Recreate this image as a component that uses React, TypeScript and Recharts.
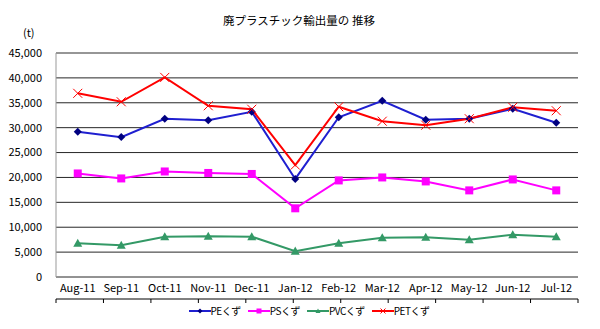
import { LineChart, Line, XAxis, YAxis, CartesianGrid, Legend, ReferenceLine } from 'recharts'

const months = ['Aug-11', 'Sep-11', 'Oct-11', 'Nov-11', 'Dec-11', 'Jan-12', 'Feb-12', 'Mar-12', 'Apr-12', 'May-12', 'Jun-12', 'Jul-12']
const peWaste = [29200, 28100, 31800, 31500, 33200, 19700, 32100, 35400, 31600, 31800, 33800, 31000]
const psWaste = [20800, 19800, 21200, 20900, 20700, 13800, 19400, 20000, 19200, 17400, 19600, 17400]
const pvcWaste = [6800, 6400, 8100, 8200, 8100, 5200, 6800, 7900, 8000, 7500, 8500, 8100]
const petWaste = [36900, 35200, 40100, 34400, 33700, 22500, 34200, 31300, 30500, 31800, 34100, 33400]
const yTicks = [0, 5000, 10000, 15000, 20000, 25000, 30000, 35000, 40000, 45000]
const edgeTicks = [0, 1, 2, 3, 4, 5, 6, 7, 8, 9, 10, 11, 12]

const data = months.map((m, i) => ({
  month: m,
  pe: peWaste[i],
  ps: psWaste[i],
  pvc: pvcWaste[i],
  pet: petWaste[i],
}))

const FONT = '"Noto Sans CJK JP", "Noto Sans", sans-serif'

// marker shapes
const Diamond = ({ cx, cy, fill = '#000080', r = 4 }: any) =>
  cx == null ? null : <path d={`M${cx},${cy - r} L${cx + r},${cy} L${cx},${cy + r} L${cx - r},${cy} Z`} fill={fill} />
const Square = ({ cx, cy, fill = '#ff00ff', r = 4 }: any) =>
  cx == null ? null : <rect x={cx - r} y={cy - r} width={r * 2} height={r * 2} fill={fill} />
const Triangle = ({ cx, cy, fill = '#339966', r = 4.5 }: any) =>
  cx == null ? null : <path d={`M${cx},${cy - r} L${cx + r},${cy + r * 0.8} L${cx - r},${cy + r * 0.8} Z`} fill={fill} />
const Cross = ({ cx, cy, stroke = '#ff0000', r = 4.5 }: any) =>
  cx == null ? null : (
    <path d={`M${cx - r},${cy - r} L${cx + r},${cy + r} M${cx + r},${cy - r} L${cx - r},${cy + r}`} stroke={stroke} strokeWidth={1} fill="none" />
  )

const series = [
  { key: 'pe', name: 'PEくず', color: '#1f1fd0', Marker: Diamond, mColor: '#000080' },
  { key: 'ps', name: 'PSくず', color: '#ff00ff', Marker: Square, mColor: '#ff00ff' },
  { key: 'pvc', name: 'PVCくず', color: '#339966', Marker: Triangle, mColor: '#339966' },
  { key: 'pet', name: 'PETくず', color: '#ff0000', Marker: Cross, mColor: '#ff0000' },
]

const renderLegend = () => (
  <div style={{ display: 'flex', justifyContent: 'center', gap: 7, fontFamily: FONT, fontSize: 10, letterSpacing: -0.5, color: '#000', paddingLeft: 40 }}>
    {series.map(s => (
      <div key={s.key} style={{ display: 'flex', alignItems: 'center' }}>
        <svg width={22} height={10}>
          <line x1={0} y1={5} x2={22} y2={5} stroke={s.color} strokeWidth={2} />
          <s.Marker cx={11} cy={5} r={2.5} fill={s.mColor} stroke={s.mColor} />
        </svg>
        <span>{s.name}</span>
      </div>
    ))}
  </div>
)

export default function App() {
  return (
    <div style={{ position: 'relative', width: 598, height: 328, border: '1px solid #000', boxSizing: 'border-box', background: '#fff', margin: -8 }}>
      <div style={{ position: 'absolute', left: -1, top: 11, width: 598, textAlign: 'center', fontFamily: FONT, fontSize: 11.5, color: '#000' }}>
        廃プラスチック輸出量の 推移
      </div>
      <div style={{ position: 'absolute', left: 22, top: 23, fontFamily: FONT, fontSize: 11, color: '#000' }}>(t)</div>
      <div style={{ position: 'absolute', left: -1, top: -1 }}>
        <LineChart width={598} height={328} data={data} margin={{ top: 53, right: 20, left: 0, bottom: 3 }}>
          <CartesianGrid vertical={false} stroke="#000" strokeOpacity={0.85} yAxisId="l" />
          <XAxis xAxisId="edge" type="number" domain={[0, 12]} ticks={edgeTicks} tickFormatter={() => ''}
            stroke="#000" tickSize={4} height={4} allowDataOverflow />
          <XAxis xAxisId="cat" dataKey="month" axisLine={false} tickLine={false} height={22} tickSize={0} tickMargin={7}
            padding={{ left: 21.75, right: 21.75 }}
            interval={0} tick={{ fontSize: 11, fill: '#000', fontFamily: FONT }} />
          <YAxis yAxisId="l" domain={[0, 45000]} ticks={yTicks} width={56} tickLine={false} tickSize={0} tickMargin={14}
            stroke="#999" tick={{ fontSize: 11, fill: '#000', fontFamily: FONT }}
            tickFormatter={(v: number) => v.toLocaleString('en-US')} />
          <YAxis yAxisId="r" orientation="right" domain={[0, 45000]} width={0} tick={false} tickLine={false} stroke="#999" />
          <ReferenceLine yAxisId="l" xAxisId="cat" y={45000} stroke="#999" />
          <Legend verticalAlign="bottom" height={22} content={renderLegend} />
          {series.map(s => (
            <Line key={s.key} xAxisId="cat" yAxisId="l" dataKey={s.key} name={s.name} type="linear"
              stroke={s.color} strokeWidth={2} isAnimationActive={false}
              dot={(p: any) => <s.Marker key={p.index} cx={p.cx} cy={p.cy} fill={s.mColor} stroke={s.mColor} />}
              activeDot={false} />
          ))}
        </LineChart>
      </div>
    </div>
  )
}
